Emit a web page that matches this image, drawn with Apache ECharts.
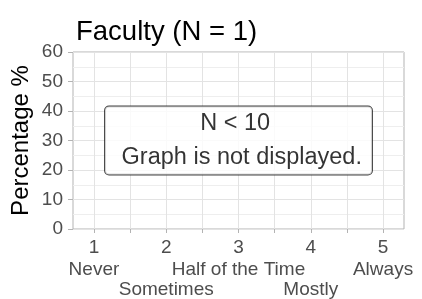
<!DOCTYPE html>
<html>
<head>
<meta charset="utf-8">
<script src="https://cdn.jsdelivr.net/npm/echarts@6/dist/echarts.min.js"></script>
<style>html,body{margin:0;padding:0;background:#fff}#c{width:422px;height:299px}</style>
</head>
<body>
<div id="c"></div>
<script>
var titleText = 'Faculty (N = 1)';
var yAxisTitle = 'Percentage %';
var xTicks = [1, 2, 3, 4, 5];
var xCategories = ['Never', 'Sometimes', 'Half of the Time', 'Mostly', 'Always'];
var xMinorTicks = [1, 1.5, 2, 2.5, 3, 3.5, 4, 4.5, 5];
var yTicks = [0, 10, 20, 30, 40, 50, 60];
var notePoint = [3, 30];
var noteLines = ['N < 10 ', ' Graph is not displayed.'];

var FONT = 'Liberation Sans, Arial, Helvetica, sans-serif';
var X_MIN = 0.71, X_MAX = 5.29;

function labelAxis(values, margin, fmt, withTicks) {
  return {
    type: 'value', min: X_MIN, max: X_MAX, position: 'bottom',
    axisLine: {show: false},
    splitLine: {show: false},
    axisTick: withTicks ? {show: true, customValues: xMinorTicks, length: 4, lineStyle: {color: '#b3b3b3'}} : {show: false},
    axisLabel: {
      customValues: values, margin: margin, showMinLabel: true, showMaxLabel: true, hideOverlap: false,
      fontFamily: FONT, fontSize: 19, color: '#4d4d4d', lineHeight: 21,
      formatter: fmt
    }
  };
}
var oddCats = xTicks.filter(function (v, i) { return i % 2 === 0; });
var evenCats = xTicks.filter(function (v, i) { return i % 2 === 1; });
function catName(v) { var i = xTicks.indexOf(Math.round(v)); return i < 0 ? '' : xCategories[i]; }

var chart = echarts.init(document.getElementById('c'), null, {renderer: 'canvas'});
chart.setOption({
  animation: false,
  backgroundColor: '#fff',
  title: {
    text: titleText, left: 71, top: 13,
    textStyle: {fontFamily: FONT, fontSize: 27.5, fontWeight: 'normal', color: '#000'}
  },
  grid: {left: 73, right: 18, top: 52, bottom: 70, outerBoundsMode: 'none', containLabel: false,
         show: true, borderColor: '#b3b3b3', borderWidth: 1, backgroundColor: '#fff'},
  xAxis: [
    labelAxis(xTicks, 8, function (v) { return String(Math.round(v)); }, true),
    labelAxis(oddCats, 30, catName, false),
    labelAxis(evenCats, 50, catName, false)
  ],
  yAxis: {
    type: 'value', min: yTicks[0], max: yTicks[yTicks.length - 1], interval: 10,
    name: yAxisTitle, nameLocation: 'middle', nameGap: 40, nameMoveOverlap: false,
    nameTextStyle: {fontFamily: FONT, fontSize: 24, color: '#000'},
    axisLine: {show: false},
    axisTick: {show: true, length: 5, lineStyle: {color: '#b3b3b3'}},
    axisLabel: {fontFamily: FONT, fontSize: 19, color: '#4d4d4d', margin: 10, showMinLabel: true, hideOverlap: false},
    splitLine: {show: true, lineStyle: {color: '#e3e3e3', width: 1}},
    minorTick: {show: false, splitNumber: 2},
    minorSplitLine: {show: true, lineStyle: {color: '#eeeeee', width: 1}}
  },
  series: [
    {
      type: 'line', data: [], silent: true, z: 1, xAxisIndex: 0,
      markLine: {
        silent: true, symbol: ['none', 'none'], animation: false,
        label: {show: false},
        lineStyle: {color: '#e3e3e3', width: 1, type: 'solid'},
        emphasis: {disabled: true},
        data: xMinorTicks.map(function (v) { return {xAxis: v}; })
      }
    },
    {
      type: 'scatter', z: 5, symbolSize: 0, silent: true, xAxisIndex: 0,
      data: [notePoint],
      label: {
        show: true, position: 'inside',
        formatter: noteLines.join('\n'),
        fontFamily: FONT, fontSize: 23.5, color: '#000', lineHeight: 34,
        backgroundColor: '#fff', borderColor: '#111', borderWidth: 1, borderRadius: 4,
        padding: [0, 10, 0, 10], align: 'center'
      }
    }
  ]
});
</script>
</body>
</html>
